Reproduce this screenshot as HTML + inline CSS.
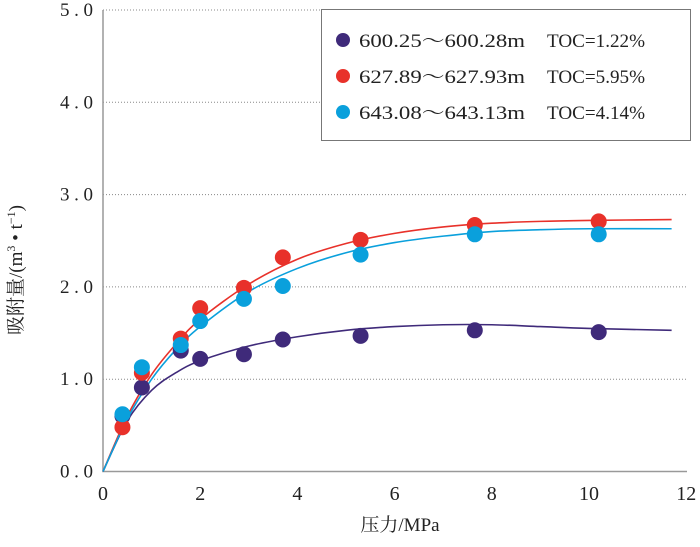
<!DOCTYPE html>
<html><head><meta charset="utf-8"><style>
body{margin:0;background:#fff}
svg{display:block;font-family:"Liberation Serif","Noto Serif CJK SC",serif}
</style></head><body>
<svg id="chart" width="700" height="547">
<g id="grid"></g>
<g id="axes"></g>
<g id="curves"></g>
<g id="points"></g>
<text x="400" y="531" font-size="19" text-anchor="middle" fill="#222">压力/MPa</text>
<text transform="translate(22,270) rotate(-90)" font-size="19" text-anchor="middle" fill="#222">吸附量/(m<tspan font-size="12" dy="-7">3</tspan><tspan dy="7"> • t</tspan><tspan font-size="12" dy="-7">−1</tspan><tspan dy="7">)</tspan></text>
<g>
<rect x="321.5" y="9.5" width="369" height="131" fill="#fff" stroke="#777" stroke-width="1"/>
<g><circle cx="343" cy="40" r="7" fill="#3f2a7a"/><text x="359" y="47" font-size="19" fill="#222" textLength="166" lengthAdjust="spacingAndGlyphs">600.25～600.28m</text><text x="547" y="47" font-size="19" fill="#222" textLength="98" lengthAdjust="spacingAndGlyphs">TOC=1.22%</text></g>
<g><circle cx="343" cy="76" r="7" fill="#e8312a"/><text x="359" y="83" font-size="19" fill="#222" textLength="166" lengthAdjust="spacingAndGlyphs">627.89～627.93m</text><text x="547" y="83" font-size="19" fill="#222" textLength="98" lengthAdjust="spacingAndGlyphs">TOC=5.95%</text></g>
<g><circle cx="343" cy="112" r="7" fill="#0aa0dc"/><text x="359" y="119" font-size="19" fill="#222" textLength="166" lengthAdjust="spacingAndGlyphs">643.08～643.13m</text><text x="547" y="119" font-size="19" fill="#222" textLength="98" lengthAdjust="spacingAndGlyphs">TOC=4.14%</text></g>
</g>
</svg>
<script>
const xTicks=[0,2,4,6,8,10,12];
const yTicks=["0.0","1.0","2.0","3.0","4.0","5.0"];
const pressures=[0.4,0.8,1.6,2.0,2.9,3.7,5.3,7.65,10.2];
const purpleVals=[0.6,0.91,1.31,1.22,1.27,1.43,1.47,1.53,1.51];
const redVals=[0.48,1.07,1.44,1.77,1.99,2.32,2.51,2.67,2.71];
const blueVals=[0.62,1.13,1.37,1.63,1.87,2.01,2.35,2.57,2.57];
const fitX=[0,0.5,1,1.5,2,3,4,5,6,7,8,9,10,11.7];
const purpleFit=[0,0.55,0.88,1.07,1.2,1.36,1.46,1.53,1.57,1.59,1.59,1.57,1.55,1.53];
const redFit=[0,0.6,1.05,1.38,1.65,2.03,2.3,2.47,2.58,2.65,2.69,2.71,2.72,2.73];
const blueFit=[0,0.57,1.0,1.32,1.57,1.95,2.2,2.37,2.48,2.55,2.6,2.62,2.63,2.63];
const NS="http://www.w3.org/2000/svg";
const X=v=>103+v*48.6, Y=v=>471.5-v*92.3;
function mk(p,t,a){const e=document.createElementNS(NS,t);for(const k in a)e.setAttribute(k,a[k]);p.appendChild(e);return e;}
const grid=document.getElementById('grid'),axes=document.getElementById('axes');
yTicks.forEach((t,i)=>{const v=parseFloat(t);
 if(v>0){const g=mk(grid,'line',{x1:X(0),x2:686,y1:Y(v),y2:Y(v),stroke:'#888','stroke-width':1,'stroke-dasharray':'1,2'});
 
 }
 const tx=mk(axes,'text',{x:93,y:Y(v)+6,'font-size':19,'text-anchor':'end',fill:'#222',textLength:33,lengthAdjust:'spacing'});tx.textContent=t;
 
 
});
xTicks.forEach(v=>{const tx=mk(axes,'text',{x:X(v),y:500,'font-size':20,'text-anchor':'middle',fill:'#222'});tx.textContent=v;
 
 });
const ax=mk(axes,'path',{d:`M${X(0)},10 V${Y(0)} H687`,fill:'none',stroke:'#999','stroke-width':1.5});


function smooth(xs,ys){const p=xs.map((x,i)=>[X(x),Y(ys[i])]);let d=`M${p[0][0]},${p[0][1]}`;
 for(let i=0;i<p.length-1;i++){const p0=p[i-1]||p[i],p1=p[i],p2=p[i+1],p3=p[i+2]||p2;
 d+=` C${p1[0]+(p2[0]-p0[0])/6},${p1[1]+(p2[1]-p0[1])/6} ${p2[0]-(p3[0]-p1[0])/6},${p2[1]-(p3[1]-p1[1])/6} ${p2[0]},${p2[1]}`;}return d;}
const series=[["purple",purpleVals,purpleFit,'#3f2a7a'],["red",redVals,redFit,'#e8312a'],["blue",blueVals,blueFit,'#0aa0dc']];
const cg=document.getElementById('curves'),pg=document.getElementById('points');
series.forEach(([n,vals,fit,c])=>{
 const l=mk(cg,'path',{d:smooth(fitX,fit),fill:'none',stroke:c,'stroke-width':1.6});
 
 
});
series.forEach(([n,vals,fit,c])=>{
 vals.forEach((v,i)=>{const ci=mk(pg,'circle',{cx:X(pressures[i]),cy:Y(v),r:8,fill:c});
 
 });
});
</script>
</body></html>
